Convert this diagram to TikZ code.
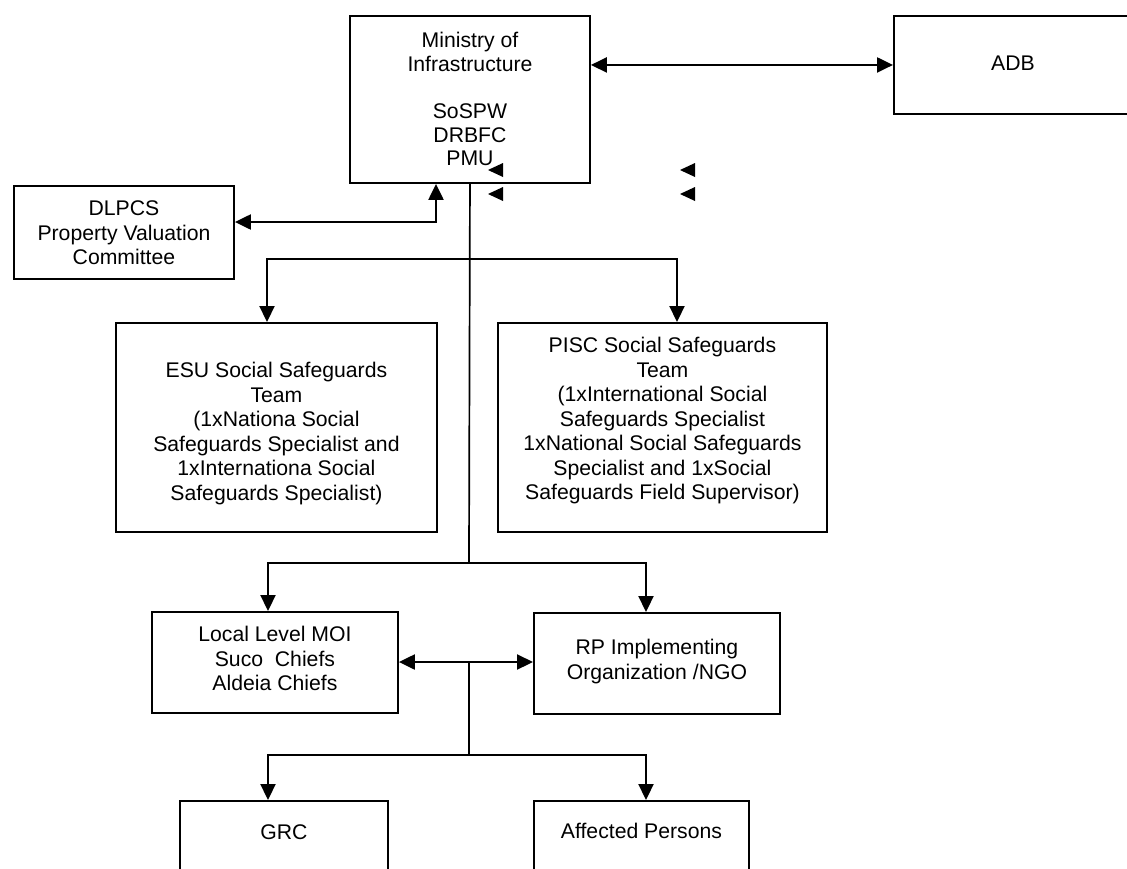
\documentclass[tikz,border=0pt]{standalone}
\usepackage{fontspec}
\setmainfont{Liberation Sans}
\usetikzlibrary{arrows.meta}
\newcommand{\bt}[3]{\raisebox{0pt}[#1pt][#2pt]{\begin{tabular}[t]{@{}c@{}}#3\end{tabular}}}
\tikzset{
  bx/.style={draw, line width=1.9pt, inner sep=0pt, anchor=north west,
             font=\fontsize{21.2}{24.5}\selectfont},
  arr/.style={line width=2.2pt, -{Triangle[length=16pt,width=15pt]}},
  arrb/.style={line width=2.2pt, {Triangle[length=16pt,width=15pt]}-{Triangle[length=16pt,width=15pt]}},
  trunk/.style={line width=1.7pt},
}
\begin{document}
\begin{tikzpicture}[x=1pt,y=-1pt]
\useasboundingbox (0,0) rectangle (1127,868);
% boxes
\node[bx, minimum width=240pt] (moi) at (349,15)
  {\renewcommand\arraystretch{0.96}\bt{32}{135}{Ministry of\\Infrastructure\\ \\SoSPW\\DRBFC\\PMU}};
\node[bx, minimum width=238pt] (adb) at (893,15) {\bt{55}{43}{ADB}};
\node[bx, minimum width=220pt] (dlpcs) at (13,185)
  {\bt{30}{63}{DLPCS\\Property Valuation\\Committee}};
\node[bx, minimum width=321pt] (esu) at (115,322)
  {\bt{55}{154}{ESU Social Safeguards\\Team\\(1xNationa Social\\Safeguards Specialist and\\1xInternationa Social\\Safeguards Specialist)}};
\node[bx, minimum width=329pt] (pisc) at (497,322)
  {\bt{30}{179}{PISC Social Safeguards\\Team\\(1xInternational Social\\Safeguards Specialist\\1xNational Social Safeguards\\Specialist and 1xSocial\\Safeguards Field Supervisor)}};
\node[bx, minimum width=246pt] (local) at (151,611)
  {\bt{30}{71}{Local Level MOI\\Suco\ \ Chiefs\\Aldeia Chiefs}};
\node[bx, minimum width=246pt] (rp) at (533,612)
  {\bt{42}{59}{RP Implementing\\Organization /NGO}};
\node[bx, minimum width=208pt] (grc) at (179,800) {\bt{39}{41}{GRC}};
\node[bx, minimum width=215pt] (ap) at (533,800) {\bt{38}{42}{Affected Persons}};
% junction coordinates
\coordinate (dlk) at (436,222);
\coordinate (j1) at (469,259);
\coordinate (j2) at (469,563);
\coordinate (j3) at (469,662);
\coordinate (j4) at (469,755);
\coordinate (xa) at (267,0);
\coordinate (xb) at (677,0);
\coordinate (xc) at (268,0);
\coordinate (xd) at (646,0);
% connectors
\draw[arrb] (moi.east |- adb.west) -- (adb.west);
\draw[arrb] (dlpcs.east |- dlk) -- (dlk) -- (moi.south -| dlk);
\draw[trunk] (moi.south) -- (j2);
\draw[arr] (j1) -| (esu.north -| xa);
\draw[arr] (j1) -| (pisc.north -| xb);
\draw[arr] (j2) -| (local.north -| xc);
\draw[arr] (j2) -| (rp.north -| xd);
\draw[arrb] (local.east |- j3) -- (rp.west |- j3);
\draw[trunk] (j3) -- (j4);
\draw[arr] (j4) -| (grc.north -| xc);
\draw[arr] (j4) -| (ap.north -| xd);
% stray arrowheads
\fill (488,170) -- (503,163) -- (503,177) -- cycle;
\fill (488,194) -- (503,187) -- (503,201) -- cycle;
\fill (680,170) -- (695,163) -- (695,177) -- cycle;
\fill (680,194) -- (695,187) -- (695,201) -- cycle;
\end{tikzpicture}
\end{document}
